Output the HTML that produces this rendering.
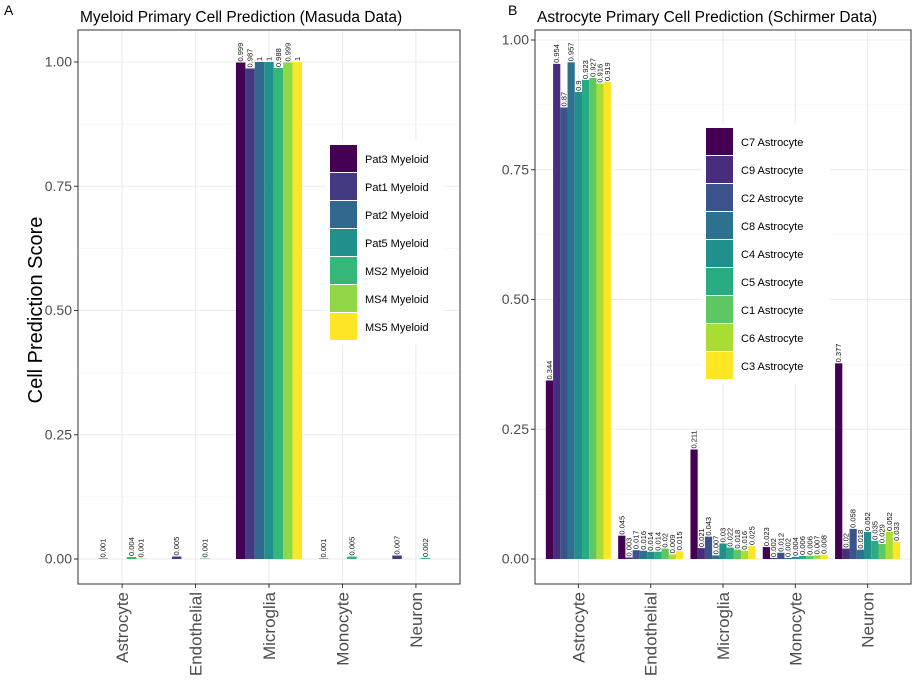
<!DOCTYPE html>
<html><head><meta charset="utf-8"><style>
body{margin:0;background:#fff;font-family:"Liberation Sans",sans-serif}
svg{display:block}
</style></head><body>
<svg id="c" width="920" height="694" xmlns="http://www.w3.org/2000/svg"></svg>
<script>
const categories=["Astrocyte","Endothelial","Microglia","Monocyte","Neuron"];
const seriesA=["Pat3 Myeloid","Pat1 Myeloid","Pat2 Myeloid","Pat5 Myeloid","MS2 Myeloid","MS4 Myeloid","MS5 Myeloid"];
const valuesA=[
 [0,0,0.999,0,0],
 [0.001,0.005,0.987,0.001,0.007],
 [0,0,1,0,0],
 [0,0,1,0,0],
 [0.004,0.001,0.988,0.005,0.002],
 [0.001,0,0.999,0,0],
 [0,0,1,0,0]];
const seriesB=["C7 Astrocyte","C9 Astrocyte","C2 Astrocyte","C8 Astrocyte","C4 Astrocyte","C5 Astrocyte","C1 Astrocyte","C6 Astrocyte","C3 Astrocyte"];
const valuesB=[
 [0.344,0.045,0.211,0.023,0.377],
 [0.954,0.003,0.021,0.002,0.02],
 [0.87,0.017,0.043,0.012,0.058],
 [0.957,0.016,0.007,0.002,0.018],
 [0.9,0.014,0.03,0.004,0.052],
 [0.923,0.014,0.022,0.006,0.035],
 [0.927,0.02,0.018,0.006,0.029],
 [0.916,0.009,0.016,0.007,0.052],
 [0.919,0.015,0.025,0.008,0.033]];
const ticks=[0,0.25,0.5,0.75,1];
const tickLabels=["0.00","0.25","0.50","0.75","1.00"];
const colA=["#440154","#443A83","#31688E","#21908C","#35B779","#8FD744","#FDE725"];
const colB=["#440154","#472D7B","#3B528B","#2C728E","#21908C","#27AD81","#5DC863","#AADC32","#FDE725"];
const svg=document.getElementById('c');
const NS="http://www.w3.org/2000/svg";
function el(t,a,p){const e=document.createElementNS(NS,t);for(const k in a)e.setAttribute(k,a[k]);(p||svg).appendChild(e);return e;}
function panel(o){
 const g=el('g',{});
 
 
 const y=v=>o.y0+(o.y1-o.y0)*v;
 const step=(o.right-o.left)/5.2; const x=i=>o.left+step*(0.6+i);
 for(let i=0;i<ticks.length-1;i++){const m=(ticks[i]+ticks[i+1])/2;el('line',{x1:o.left,x2:o.right,y1:y(m),y2:y(m),stroke:'#f2f2f2','stroke-width':0.6},g);}
 ticks.forEach((t,i)=>{el('line',{x1:o.left,x2:o.right,y1:y(t),y2:y(t),stroke:'#ebebeb','stroke-width':1.1},g);
  const tx=el('text',{x:o.left-6,y:y(t)+4.5,'text-anchor':'end','font-size':14,fill:'#4d4d4d'},g);tx.textContent=tickLabels[i];
  
  el('line',{x1:o.left-4,x2:o.left,y1:y(t),y2:y(t),stroke:'#333'},g);});
 categories.forEach((c,i)=>{el('line',{x1:x(i),x2:x(i),y1:o.top,y2:o.bottom,stroke:'#ebebeb','stroke-width':1.1},g);
  el('line',{x1:x(i),x2:x(i),y1:o.bottom,y2:o.bottom+4,stroke:'#333'},g);
  const t=el('text',{transform:`translate(${x(i)+6},${o.bottom+8}) rotate(-90)`,'text-anchor':'end','font-size':17,fill:'#4d4d4d'},g);t.textContent=c;
  });
 const n=o.series.length, bw=step*0.9/n;
 // legend first so bars draw over its background
 const lg=el('g',{},g);
 el('rect',{x:o.lx-4,y:o.ly-4,width:o.lw,height:o.lh*n+8,fill:'#fff'},lg);
 o.series.forEach((s,k)=>{el('rect',{x:o.lx,y:o.ly+k*o.lh,width:27,height:o.lh-1,fill:o.cols[k]},lg);
  const t=el('text',{x:o.lx+35,y:o.ly+k*o.lh+o.lh/2+4,'font-size':11,fill:'#000'},lg);t.textContent=s;
  });
 o.vals.forEach((row,s)=>row.forEach((v,i)=>{
  const bx=x(i)-step*0.45+s*bw;
  const r=el('rect',{x:bx,y:y(v),width:bw,height:Math.max(0,y(0)-y(v)),fill:o.cols[s]},g);
  
  if(v>0){const t=el('text',{transform:`translate(${bx+bw/2+2.5},${y(v)-1}) rotate(-90)`,'font-size':7.5,fill:'#111'},g);t.textContent=String(v);
   }
 }));
 el('rect',{x:o.left,y:o.top,width:o.right-o.left,height:o.bottom-o.top,fill:'none',stroke:'#333','stroke-width':1},g);
 const tt=el('text',{x:o.left+2,y:22,'font-size':15.5,fill:'#000'},g);tt.textContent=o.title;
 
 const tag=el('text',{x:o.tagx,y:15,'font-size':14,fill:'#000'},g);tag.textContent=o.tag;
 
}
panel({name:'myeloid-panel',left:78,right:460,top:30,bottom:584,y0:559,y1:62,series:seriesA,vals:valuesA,cols:colA,title:'Myeloid Primary Cell Prediction (Masuda Data)',tag:'A',tagx:4,lx:330,ly:145,lw:118,lh:28});
panel({name:'astrocyte-panel',left:535,right:911,top:30,bottom:584,y0:559,y1:40,series:seriesB,vals:valuesB,cols:colB,title:'Astrocyte Primary Cell Prediction (Schirmer Data)',tag:'B',tagx:508,lx:706,ly:128,lw:128,lh:28});
const yl=el('text',{transform:'translate(42,310) rotate(-90)','text-anchor':'middle','font-size':20,fill:'#000'});
yl.textContent='Cell Prediction Score';


</script>
</body></html>
